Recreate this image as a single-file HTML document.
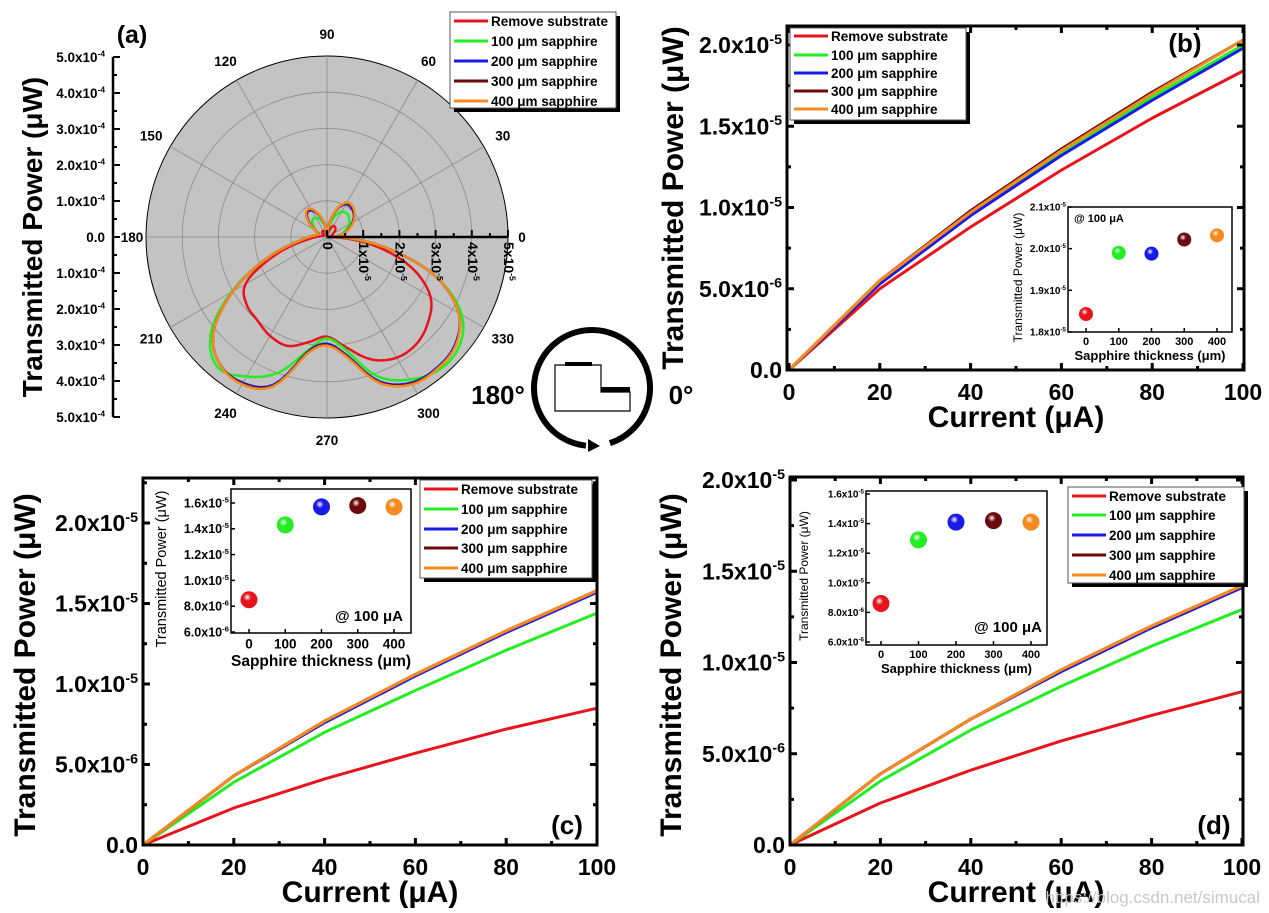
<!DOCTYPE html>
<html><head><meta charset="utf-8">
<style>
html,body{margin:0;padding:0;background:#fff;}
svg{display:block;font-family:"Liberation Sans",Arial,sans-serif;font-weight:bold;}
</style></head>
<body>
<svg id="fig" width="1269" height="913" viewBox="0 0 1269 913" xmlns="http://www.w3.org/2000/svg"></svg>
<script>
// ---------- DATA ----------
const currents=[0,20,40,60,80,100];
const seriesNames=["Remove substrate","100 μm sapphire","200 μm sapphire","300 μm sapphire","400 μm sapphire"];
// panel b (units 1e-6 μW)
const bRed=[0,5.0,8.8,12.3,15.5,18.4];
const bGreen=[0,5.4,9.6,13.4,16.8,20.0];
const bBlue=[0,5.3,9.5,13.2,16.6,19.8];
const bBrown=[0,5.5,9.8,13.6,17.1,20.3];
const bOrange=[0,5.5,9.7,13.5,17.0,20.3];
// panel c
const cRed=[0,2.3,4.1,5.7,7.2,8.5];
const cGreen=[0,3.9,7.0,9.6,12.1,14.4];
const cBlue=[0,4.3,7.6,10.5,13.2,15.7];
const cBrown=[0,4.3,7.7,10.6,13.3,15.8];
const cOrange=[0,4.3,7.7,10.6,13.3,15.8];
// panel d
const dRed=[0,2.3,4.1,5.7,7.1,8.4];
const dGreen=[0,3.5,6.3,8.7,10.9,12.9];
const dBlue=[0,3.9,6.9,9.5,11.9,14.1];
const dBrown=[0,3.9,6.9,9.6,12.0,14.2];
const dOrange=[0,3.9,6.9,9.6,12.0,14.2];
// insets (thickness μm, power 1e-6 μW)
const thickness=[0,100,200,300,400];
const bInset=[18.43,19.9,19.88,20.22,20.32];
const cInset=[8.5,14.3,15.7,15.8,15.7];
const dInset=[8.6,12.9,14.1,14.2,14.1];
// tick label arrays
const mainXTicks=[0,20,40,60,80,100];
const mainYTicks=[0,5,10,15,20];
const mainYLabels=[["0.0",""],["5.0","-6"],["1.0","-5"],["1.5","-5"],["2.0","-5"]];
const bInsetYTicks=[18,19,20,21];
const bInsetYLabels=[["1.8","-5"],["1.9","-5"],["2.0","-5"],["2.1","-5"]];
const cdInsetYTicks=[6,8,10,12,14,16];
const cdInsetYLabels=[["6.0","-6"],["8.0","-6"],["1.0","-5"],["1.2","-5"],["1.4","-5"],["1.6","-5"]];
// polar (a), angle degrees, radius in 1e-5 μW
const polarAngles=[0,10,20,30,40,50,60,70,80,90,100,110,120,130,140,150,160,170,180,190,200,210,220,230,240,250,260,270,280,290,300,310,320,330,340,350];
const aRed=[0.1,0.12,0.15,0.2,0.3,0.35,0.35,0.25,0.1,0.05,0.1,0.15,0.2,0.2,0.15,0.1,0.1,0.15,0.3,0.7,1.6,2.6,2.9,3.0,3.15,3.2,2.95,2.75,3.1,3.6,3.85,3.85,3.65,3.3,2.5,1.3];
const aGreen=[0.3,0.4,0.55,0.7,0.8,0.85,0.8,0.6,0.3,0.1,0.3,0.5,0.62,0.62,0.5,0.33,0.25,0.3,0.5,0.9,1.8,3.05,4.2,4.7,4.45,4.0,3.2,2.8,3.2,4.1,4.55,4.8,4.75,4.3,3.2,1.6];
const aBlue=[0.3,0.45,0.63,0.82,0.97,1.05,1.05,0.82,0.4,0.15,0.35,0.65,0.85,0.86,0.65,0.38,0.25,0.3,0.5,0.9,1.8,3.0,4.1,4.6,4.65,4.35,3.25,2.95,3.35,4.25,4.65,4.72,4.62,4.2,3.2,1.6];
const aBrown=[0.3,0.45,0.64,0.84,0.99,1.08,1.08,0.84,0.4,0.15,0.35,0.67,0.88,0.88,0.67,0.38,0.25,0.3,0.5,0.9,1.8,3.0,4.1,4.6,4.68,4.38,3.28,2.98,3.38,4.28,4.68,4.74,4.64,4.2,3.2,1.6];
const aOrange=[0.3,0.45,0.65,0.85,1.0,1.1,1.1,0.85,0.4,0.15,0.35,0.68,0.9,0.9,0.68,0.38,0.25,0.3,0.5,0.9,1.8,3.0,4.1,4.6,4.7,4.4,3.3,3.0,3.4,4.3,4.7,4.75,4.65,4.2,3.2,1.6];
const polarRadialTicks=[0,1,2,3,4,5];
const polarAngleLabels=[0,30,60,90,120,150,180,210,240,270,300,330];
const aAxisLabels=["5.0","4.0","3.0","2.0","1.0","0.0","1.0","2.0","3.0","4.0","5.0"];

// ---------- HELPERS ----------
const NS='http://www.w3.org/2000/svg';
const svg=document.getElementById('fig');
const COLORS=["#e8141c","#22ee22","#1a1ae6","#6b0a0a","#f58a1f"];
function mk(tag,attrs,parent){const e=document.createElementNS(NS,tag);for(const k in attrs)e.setAttribute(k,attrs[k]);(parent||svg).appendChild(e);return e;}
function group(parent){return mk('g',{},parent);}
function sci(x,y,m,ex,size,anchor,parent){
  const t=mk('text',{x:x,y:y,'font-size':size,'text-anchor':anchor},parent);
  if(ex===""){t.textContent=m;return t;}
  const a=mk('tspan',{},t);a.textContent=m+"x10";
  const b=mk('tspan',{dy:-size*0.4,'font-size':size*0.62},t);b.textContent=ex;
  return t;
}
function plain(x,y,s,size,anchor,parent,weight){
  const t=mk('text',{x:x,y:y,'font-size':size,'text-anchor':anchor||'middle'},parent);
  if(weight)t.setAttribute('font-weight',weight);
  t.textContent=s;return t;
}
function legend(l,t,w,h,ys,parent){
  const g=group(parent);
  
  
  mk('rect',{x:l+4,y:t+4,width:w,height:h,fill:'#000'},g);
  mk('rect',{x:l,y:t,width:w,height:h,fill:'#fff',stroke:'#555','stroke-width':1},g);
  for(let i=0;i<5;i++){
    const e=group(g);
    
    
    mk('line',{x1:l+4,x2:l+38,y1:ys[i],y2:ys[i],stroke:COLORS[i],'stroke-width':3},e);
    plain(l+41,ys[i]+5,seriesNames[i],13.5,'start',e);
  }
}
function linePanel(cfg){
  const g=group();
  
  
  const X=v=>cfg.x0+(v/100)*(cfg.x1-cfg.x0);
  const Y=v=>cfg.y0-(v/20)*(cfg.y0-cfg.y20);
  cfg.series.forEach((arr,si)=>{
    const p=mk('polyline',{points:currents.map((c,i)=>X(c)+','+Y(arr[i])).join(' '),fill:'none',stroke:COLORS[si],'stroke-width':3,'stroke-linejoin':'round'},g);
    
    
  });
  const f=mk('rect',{x:cfg.fl,y:cfg.ft,width:cfg.fr-cfg.fl,height:cfg.y0-cfg.ft,fill:'none',stroke:'#000','stroke-width':3},g);
  
  
  const tg=group(g);
  
  
  for(let v=0;v<=100;v+=10){const maj=v%20===0;const L=maj?7:4;
    mk('line',{x1:X(v),x2:X(v),y1:cfg.y0,y2:cfg.y0-L,stroke:'#000','stroke-width':3},tg);
    mk('line',{x1:X(v),x2:X(v),y1:cfg.ft,y2:cfg.ft+L,stroke:'#000','stroke-width':3},tg);}
  for(let v=0;v<=cfg.ymax;v+=2.5){const maj=v%5===0;const L=maj?7:4;
    mk('line',{x1:cfg.fl,x2:cfg.fl+L,y1:Y(v),y2:Y(v),stroke:'#000','stroke-width':3},tg);
    mk('line',{x1:cfg.fr,x2:cfg.fr-L,y1:Y(v),y2:Y(v),stroke:'#000','stroke-width':3},tg);}
  const xl=group(g);
  
  
  mainXTicks.forEach(v=>plain(X(v),cfg.y0+30,String(v),23,'middle',xl));
  const yl=group(g);
  
  
  mainYTicks.forEach((v,i)=>sci(cfg.fl-5,Y(v)+8,mainYLabels[i][0],mainYLabels[i][1],23,'end',yl));
  const yt=plain(0,0,'Transmitted Power (μW)',30,'middle',g);
  yt.setAttribute('transform','translate('+cfg.ytx+','+cfg.yty+') rotate(-90)');
  
  
  const xt=plain((cfg.x0+cfg.x1)/2,cfg.y0+57,'Current (μA)',30,'middle',g);
  
  
  const pl=plain(cfg.lx,cfg.ly,cfg.label,26,'middle',g);
  
  
  return g;
}
function inset(cfg,parent){
  const g=group(parent);
  
  
  mk('rect',{x:cfg.l,y:cfg.t,width:cfg.r-cfg.l,height:cfg.b-cfg.t,fill:'#fff',stroke:'#000','stroke-width':1.5},g);
  const X=v=>cfg.x0+(v/400)*(cfg.x400-cfg.x0);
  const Y=v=>cfg.yA-(v-cfg.vA)*(cfg.yA-cfg.yB)/(cfg.vB-cfg.vA);
  cfg.yticks.forEach((v,i)=>{
    mk('line',{x1:cfg.l,x2:cfg.l+4,y1:Y(v),y2:Y(v),stroke:'#000','stroke-width':1.5},g);
    sci(cfg.l-2,Y(v)+cfg.fs*0.35,cfg.ylabels[i][0],cfg.ylabels[i][1],cfg.fs,'end',g);
  });
  thickness.forEach(v=>{mk('line',{x1:X(v),x2:X(v),y1:cfg.b,y2:cfg.b-4,stroke:'#000','stroke-width':1.5},g);
    plain(X(v),cfg.b+cfg.fs+3,String(v),cfg.fs+1,'middle',g);});
  cfg.vals.forEach((v,i)=>{
    const c=mk('circle',{cx:X(thickness[i]),cy:Y(v),r:cfg.rad,fill:'url(#sph'+i+')'},g);
    
    
  });
  plain(cfg.atx,cfg.aty,'@ 100 μA',cfg.afs,cfg.aanchor,g);
  plain((cfg.l+cfg.r)/2,cfg.b+cfg.fs*2+8,'Sapphire thickness (μm)',cfg.fs+3,'middle',g);
  const yt=plain(0,0,'Transmitted Power (μW)',cfg.fs+2,'middle',g,'normal');
  yt.setAttribute('transform','translate('+cfg.ytx+','+((cfg.t+cfg.b)/2+8)+') rotate(-90)');
}

const defs=mk('defs',{});
COLORS.forEach((c,i)=>{const rg=mk('radialGradient',{id:'sph'+i,cx:'40%',cy:'35%',r:'65%'},defs);
  mk('stop',{offset:'0%','stop-color':'#fff'},rg);mk('stop',{offset:'35%','stop-color':c},rg);mk('stop',{offset:'100%','stop-color':c},rg);});

// ---------- PANEL (a) polar ----------
(function(){
  const g=group();
  
  
  const cx=327,cy=237,k=36.2,R=181;
  mk('circle',{cx:cx,cy:cy,r:R,fill:'#c3c3c3',stroke:'#000','stroke-width':1},g);
  for(let i=1;i<5;i++)mk('circle',{cx:cx,cy:cy,r:i*k,fill:'none',stroke:'#8a8a8a','stroke-width':0.8},g);
  for(let a=0;a<360;a+=30){const r=a*Math.PI/180;mk('line',{x1:cx,y1:cy,x2:cx+R*Math.cos(r),y2:cy-R*Math.sin(r),stroke:'#8a8a8a','stroke-width':0.8},g);}
  const series=[aRed,aGreen,aBlue,aBrown,aOrange];
  const n=polarAngles.length;
  series.forEach((arr,si)=>{
    let d='';
    for(let i=0;i<n;i++){
      const p0=arr[(i-1+n)%n],p1=arr[i],p2=arr[(i+1)%n],p3=arr[(i+2)%n];
      for(let s=0;s<5;s++){const t=s/5;
        const r=0.5*((2*p1)+(-p0+p2)*t+(2*p0-5*p1+4*p2-p3)*t*t+(-p0+3*p1-3*p2+p3)*t*t*t);
        const th=(polarAngles[i]+t*10)*Math.PI/180;
        const x=cx+Math.max(r,0)*k*Math.cos(th),y=cy-Math.max(r,0)*k*Math.sin(th);
        d+=(d?'L':'M')+x.toFixed(1)+','+y.toFixed(1);}
    }
    const p=mk('path',{d:d+'Z',fill:'none',stroke:COLORS[si],'stroke-width':2.5},g);
    
    
  });
  const ax=group(g);
  
  
  mk('line',{x1:cx,y1:cy,x2:cx+R,y2:cy,stroke:'#000','stroke-width':2.5},ax);
  for(let v=0;v<=5;v+=0.5)mk('line',{x1:cx+v*k,x2:cx+v*k,y1:cy,y2:cy-(v%1===0?7:4),stroke:'#000','stroke-width':2},ax);
  polarRadialTicks.forEach(v=>{
    const t=v===0?plain(0,0,'0',14,'start',ax):sci(0,0,String(v),'-5',14,'start',ax);
    t.setAttribute('transform','translate('+(cx+v*k-4)+','+(cy+5)+') rotate(90)');
  });
  const al=group(g);
  
  
  polarAngleLabels.forEach(a=>{const r=a*Math.PI/180,rr=R+(a%180===0?14:22);
    plain(cx+rr*Math.cos(r),cy-rr*Math.sin(r)+5,String(a),13.5,'middle',al);});
  const la=group(g);
  
  
  mk('line',{x1:113,x2:113,y1:57,y2:417,stroke:'#000','stroke-width':2.5},la);
  for(let i=0;i<=20;i++){const y=57+i*18;mk('line',{x1:113,x2:113+(i%2===0?7:4),y1:y,y2:y,stroke:'#000','stroke-width':2},la);}
  aAxisLabels.forEach((s,i)=>sci(105,57+i*36+5,s,s==="0.0"?"":"-4",13.5,'end',la));
  const yt=plain(0,0,'Transmitted Power (μW)',28,'middle',g);
  yt.setAttribute('transform','translate(42,237) rotate(-90)');
  
  
  const pl=plain(132,43,'(a)',25,'middle',g);
  
  
  legend(450,12,166,96,[21,41,61,81,101],g);
})();

(function(){
  const g=group();
  
  
  const cx=592,cy=388,r=58;
  const a1=72*Math.PI/180,a2=96*Math.PI/180;
  mk('path',{d:'M'+(cx+r*Math.cos(a1))+','+(cy+r*Math.sin(a1))+' A'+r+','+r+' 0 1 0 '+(cx+r*Math.cos(a2))+','+(cy+r*Math.sin(a2)),fill:'none',stroke:'#000','stroke-width':6},g);
  mk('polygon',{points:'588,439 600,446 588,452',fill:'#000'},g);
  mk('path',{d:'M555,365 H601 V392 H630 V411 H555 Z',fill:'#fff',stroke:'#000','stroke-width':1.2},g);
  mk('rect',{x:565,y:362,width:27,height:4,fill:'#000'},g);
  mk('rect',{x:601,y:387,width:29,height:5,fill:'#000'},g);
  plain(498,404,'180°',26,'middle',g);
  plain(681,404,'0°',26,'middle',g);
})();

const pb=linePanel({name:'panel-b',x0:789,x1:1243,y0:370,y20:45,fl:787,fr:1244,ft:26,ymax:20,ytx:683,yty:198,lx:1185,ly:52,label:'(b)',series:[bRed,bGreen,bBlue,bBrown,bOrange]});
legend(790,28,176,92,[36,55,73,91,109],pb);
inset({l:1068,t:207,r:1232,b:332,x0:1086,x400:1217,vA:18,yA:332,vB:21,yB:207,yticks:bInsetYTicks,ylabels:bInsetYLabels,vals:bInset,rad:7,fs:10,atx:1074,aty:222,afs:11,aanchor:'start',ytx:1022},pb);

const pc=linePanel({name:'panel-c',x0:143,x1:597,y0:845,y20:523,fl:143,fr:597,ft:478,ymax:22.5,ytx:35,yty:665,lx:567,ly:834,label:'(c)',series:[cRed,cGreen,cBlue,cBrown,cOrange]});
inset({l:231,t:489,r:411,b:633,x0:249,x400:394,vA:6,yA:632,vB:16,yB:503,yticks:cdInsetYTicks,ylabels:cdInsetYLabels,vals:cInset,rad:8.5,fs:12.5,atx:403,aty:621,afs:15,aanchor:'end',ytx:166},pc);
legend(420,480,172,98,[489,509,529,548,568],pc);

const pd=linePanel({name:'panel-d',x0:790,x1:1242,y0:845,y20:480,fl:790,fr:1243,ft:477,ymax:20,ytx:681,yty:665,lx:1214,ly:834,label:'(d)',series:[dRed,dGreen,dBlue,dBrown,dOrange]});
inset({l:866,t:491,r:1047,b:645,x0:881,x400:1031,vA:6,yA:642,vB:16,yB:494,yticks:cdInsetYTicks,ylabels:cdInsetYLabels,vals:dInset,rad:8.5,fs:10,atx:1042,aty:632,afs:15,aanchor:'end',ytx:808},pd);
legend(1068,487,176,96,[496,515,535,555,575],pd);

const wm=plain(1260,903,'https://blog.csdn.net/simucal',17,'end',svg,'normal');
wm.setAttribute('fill','#c8c8c8');


</script>
</body></html>
